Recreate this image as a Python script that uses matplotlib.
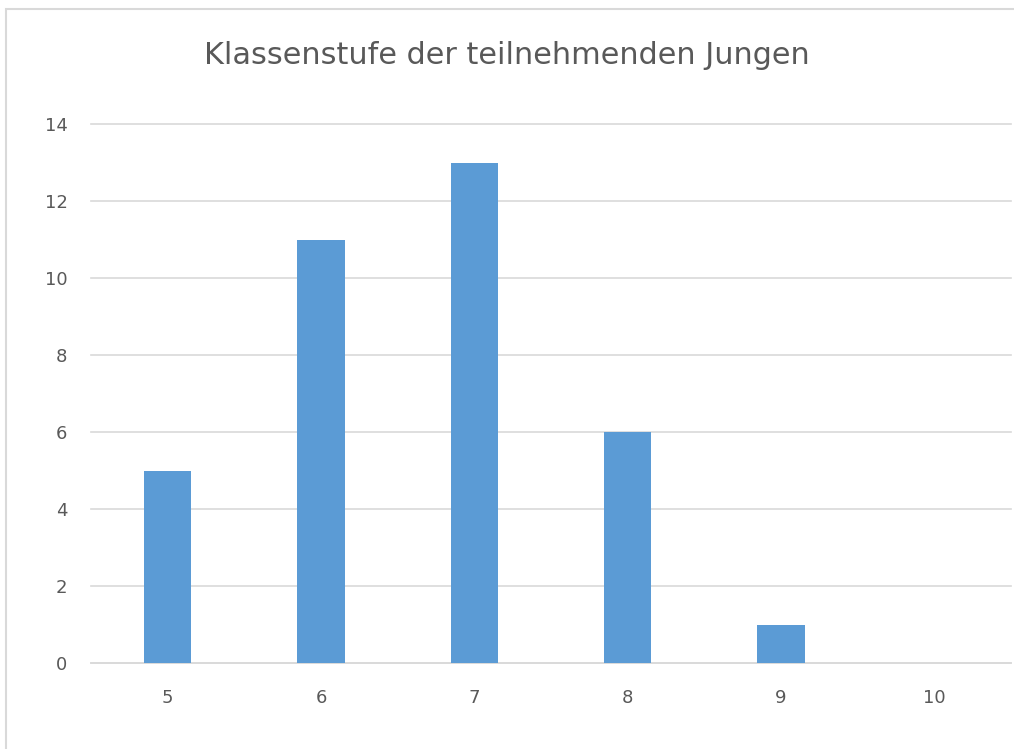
import matplotlib
matplotlib.use('Agg')
import matplotlib.pyplot as plt
from matplotlib.patches import Rectangle

klassen = ['5', '6', '7', '8', '9', '10']
anzahl = [5, 11, 13, 6, 1, 0]
y_ticks = [0, 2, 4, 6, 8, 10, 12, 14]

txt = '#595959'
grid = '#d9d9d9'
blau = '#5b9bd5'

fig = plt.figure(figsize=(10.14, 7.49), dpi=100)
ax = fig.add_axes([91 / 1014, 1 - 663 / 749, 920 / 1014, 539 / 749])

# Rahmen des Diagramms
fig.patches.append(Rectangle((6 / 1014, -0.1), 1.2, 1 - 9 / 749 + 0.1,
                             transform=fig.transFigure, fill=False,
                             edgecolor=grid, linewidth=1.5))

ax.bar(range(len(klassen)), anzahl, width=0.31, color=blau, zorder=3)
ax.set_xlim(-0.5, len(klassen) - 0.5)
ax.set_ylim(0, 14)
ax.set_yticks(y_ticks)
ax.set_xticks(range(len(klassen)))
ax.set_xticklabels(klassen)
ax.grid(axis='y', color=grid, linewidth=1.2, zorder=0)
for gl in ax.get_ygridlines():
    gl.set_clip_on(False)
ax.set_axisbelow(True)
for s in ['top', 'right', 'left']:
    ax.spines[s].set_visible(False)
ax.spines['bottom'].set_color(grid)
ax.spines['bottom'].set_linewidth(1.2)
ax.tick_params(axis='both', length=0, labelsize=13, colors=txt)
ax.tick_params(axis='y', pad=17)
ax.tick_params(axis='x', pad=19)

fig.text(0.5, 1 - 55 / 749, 'Klassenstufe der teilnehmenden Jungen',
         ha='center', va='center', fontsize=21.8, color=txt)

fig.savefig('out.png', dpi=100)
